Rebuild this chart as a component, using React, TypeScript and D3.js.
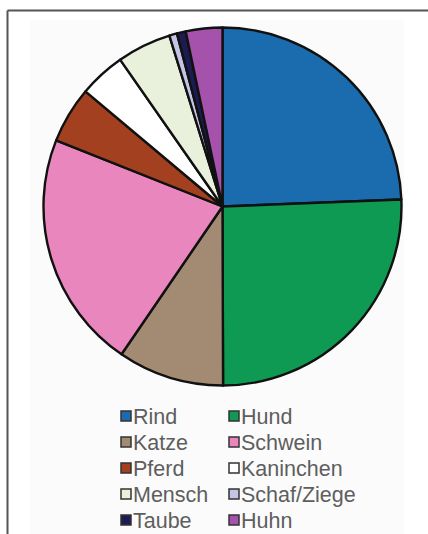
import React from "react";
import * as d3 from "d3";

const categories = ["Rind", "Hund", "Katze", "Schwein", "Pferd", "Kaninchen", "Mensch", "Schaf/Ziege", "Taube", "Huhn"];
const values = [24.4, 25.6, 9.6, 21.5, 5.1, 4.2, 4.9, 0.7, 0.8, 3.3];
const colors = ["#1b6cae", "#0e9a52", "#a38a72", "#ea86be", "#a2401f", "#ffffff", "#e9f1dd", "#c4c4e6", "#1c1c52", "#a452ab"];
const legendOrder = [0, 1, 2, 3, 4, 5, 6, 7, 8, 9];

export default function App() {
  const W = 428, H = 534;
  const cx = 222.5, cy = 206.5, r = 179;
  const pie = d3.pie<number>().sort(null).value((d) => d)(values);
  const arc = d3.arc<d3.PieArcDatum<number>>().innerRadius(0).outerRadius(r);

  const colX = [120, 228];
  const rowY = d3.range(5).map((i) => 416 + i * 26);

  return (
    <svg width={W} height={H} style={{ position: "absolute", left: 0, top: 0, background: "#fff" }}>
      <rect x={30} y={20} width={374} height={514} fill="#fbfbfb" />
      <line x1={7.5} y1={10.5} x2={W} y2={10.5} stroke="#555" strokeWidth={2} />
      <line x1={7.5} y1={10.5} x2={7.5} y2={H} stroke="#555" strokeWidth={2} />
      <g transform={`translate(${cx},${cy})`}>
        {pie.map((p, i) => (
          <path key={i} d={arc(p) || ""} fill={colors[i]} stroke="#111" strokeWidth={2.4} strokeLinejoin="round" />
        ))}
      </g>
      <g fontFamily="Liberation Sans, Arial, sans-serif" fontSize={21.5} fill="#5e5e5e">
        {legendOrder.map((idx, k) => {
          const col = k % 2;
          const row = Math.floor(k / 2);
          const x = colX[col];
          const y = rowY[row];
          return (
            <g key={idx}>
              <rect x={x + 1} y={y - 5} width={10} height={10} fill={colors[idx]} stroke="#333" strokeWidth={1.5} />
              <text x={x + 13} y={y + 7.5}>{categories[idx]}</text>
            </g>
          );
        })}
      </g>
    </svg>
  );
}
